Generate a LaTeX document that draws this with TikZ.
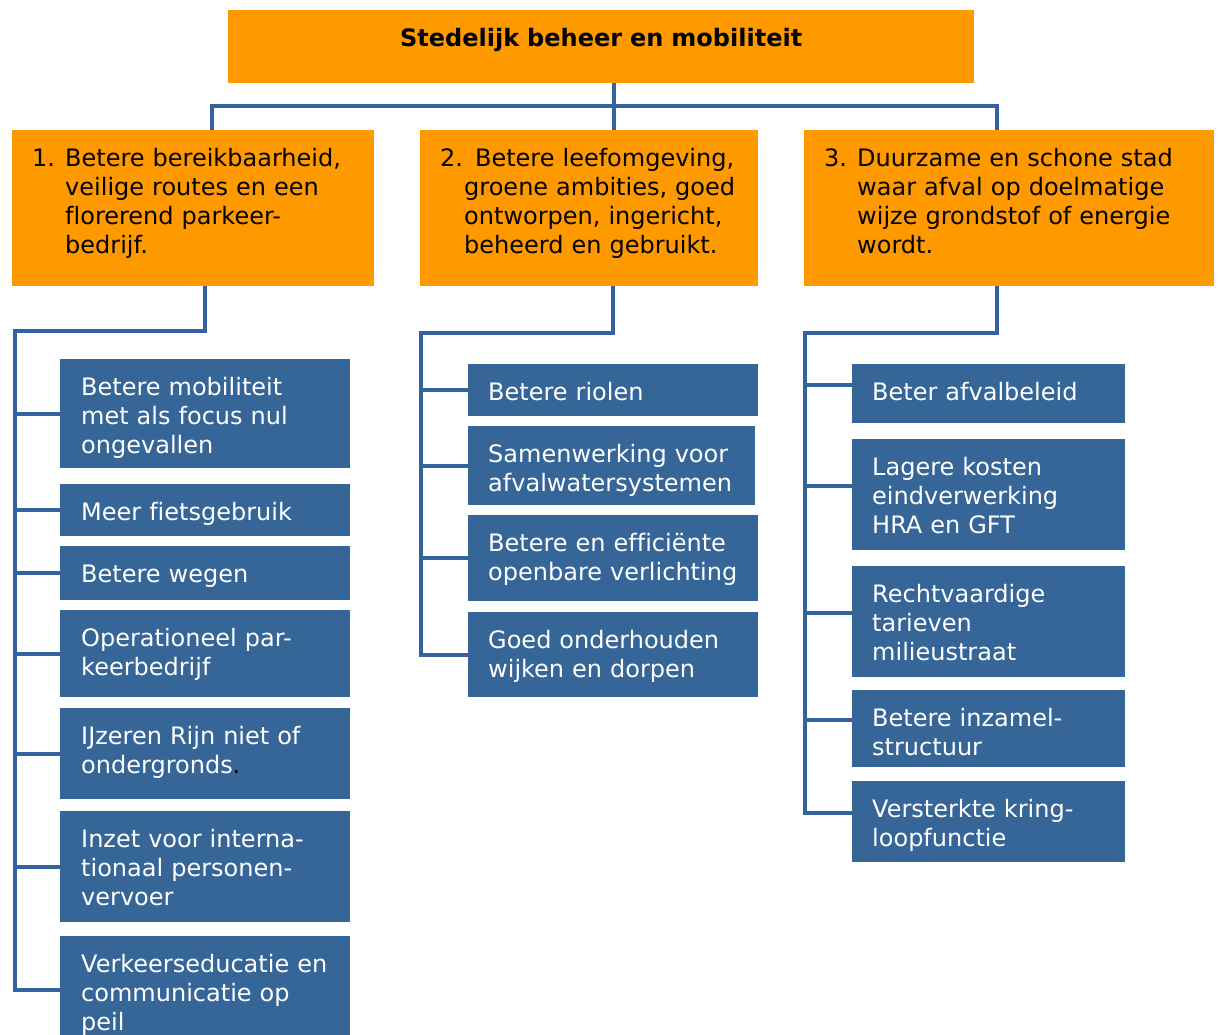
\documentclass[tikz,border=0pt]{standalone}
\usepackage{fontspec}
\setmainfont{DejaVu Sans}[Ligatures=NoCommon]

\definecolor{oranje}{RGB}{255,153,0}
\definecolor{blauw}{RGB}{54,101,152}
\definecolor{lijnblauw}{RGB}{52,100,160}

\newcommand{\nummer}[1]{\makebox[33pt][l]{#1}}
\newcommand{\inspring}[1]{\hspace*{#1}}

\tikzset{
  doel/.style={fill=oranje, inner sep=0pt, anchor=north west},
  actie/.style={fill=blauw, inner sep=0pt, anchor=north west},
  tekst/.style={anchor=base west, inner sep=0pt, text width=400pt, align=left, font=\fontsize{24}{29}\selectfont},
  wit/.style={tekst, text=white},
  verbinding/.style={draw=lijnblauw, line width=4pt}
}

\begin{document}
\begin{tikzpicture}[x=1pt, y=-1pt]
    \useasboundingbox (0,0) rectangle (1218,1034);
    \node[doel, minimum width=746, minimum height=73] (top) at (228,10) {}; % hoofdthema
    \node[tekst, anchor=base, text width=700pt, align=center, font=\fontsize{24}{29}\selectfont\bfseries] (top-t) at ([yshift=-36pt]top.north) {Stedelijk beheer en mobiliteit};
    \node[doel, minimum width=362, minimum height=156] (g1) at (12,130) {}; % doel 1
    \node[doel, minimum width=338, minimum height=156] (g2) at (420,130) {}; % doel 2
    \node[doel, minimum width=410, minimum height=156] (g3) at (804,130) {}; % doel 3
    \node[tekst] (g1-t) at ([xshift=20pt, yshift=-36pt]g1.north west) {\nummer{1.}Betere bereikbaarheid,\\\inspring{33pt}veilige routes en een\\\inspring{33pt}florerend parkeer-\\\inspring{33pt}bedrijf.};
    \node[tekst] (g2-t) at ([xshift=20pt, yshift=-36pt]g2.north west) {2. Betere leefomgeving,\\\inspring{24pt}groene ambities, goed\\\inspring{24pt}ontworpen, ingericht,\\\inspring{24pt}beheerd en gebruikt.};
    \node[tekst] (g3-t) at ([xshift=20pt, yshift=-36pt]g3.north west) {\nummer{3.}Duurzame en schone stad\\\inspring{33pt}waar afval op doelmatige\\\inspring{33pt}wijze grondstof of energie\\\inspring{33pt}wordt.};

    \node[actie, minimum width=290, minimum height=109] (l1) at (60,359) {}; % acties doel 1
    \node[actie, minimum width=290, minimum height=52] (l2) at (60,484) {};
    \node[actie, minimum width=290, minimum height=54] (l3) at (60,546) {};
    \node[actie, minimum width=290, minimum height=87] (l4) at (60,610) {};
    \node[actie, minimum width=290, minimum height=91] (l5) at (60,708) {};
    \node[actie, minimum width=290, minimum height=111] (l6) at (60,811) {};
    \node[actie, minimum width=290, minimum height=108] (l7) at (60,936) {};
    \node[wit] (l1-t) at ([xshift=21pt, yshift=-36pt]l1.north west) {Betere mobiliteit\\met als focus nul\\ongevallen};
    \node[wit] (l2-t) at ([xshift=21pt, yshift=-36pt]l2.north west) {Meer fietsgebruik};
    \node[wit] (l3-t) at ([xshift=21pt, yshift=-36pt]l3.north west) {Betere wegen};
    \node[wit] (l4-t) at ([xshift=21pt, yshift=-36pt]l4.north west) {Operationeel par-\\keerbedrijf};
    \node[wit] (l5-t) at ([xshift=21pt, yshift=-36pt]l5.north west) {IJzeren Rijn niet of\\ondergronds\textcolor{black}{.}};
    \node[wit] (l6-t) at ([xshift=21pt, yshift=-36pt]l6.north west) {Inzet voor interna-\\tionaal personen-\\vervoer};
    \node[wit] (l7-t) at ([xshift=21pt, yshift=-36pt]l7.north west) {Verkeerseducatie en\\communicatie op\\peil};

    \node[actie, minimum width=290, minimum height=52] (m1) at (468,364) {}; % acties doel 2
    \node[actie, minimum width=287, minimum height=79] (m2) at (468,426) {};
    \node[actie, minimum width=290, minimum height=86] (m3) at (468,515) {};
    \node[actie, minimum width=290, minimum height=85] (m4) at (468,612) {};
    \node[wit] (m1-t) at ([xshift=20pt, yshift=-36pt]m1.north west) {Betere riolen};
    \node[wit] (m2-t) at ([xshift=20pt, yshift=-36pt]m2.north west) {Samenwerking voor\\afvalwatersystemen};
    \node[wit] (m3-t) at ([xshift=20pt, yshift=-36pt]m3.north west) {Betere en efficiënte\\openbare verlichting};
    \node[wit] (m4-t) at ([xshift=20pt, yshift=-36pt]m4.north west) {Goed onderhouden\\wijken en dorpen};

    \node[actie, minimum width=273, minimum height=59] (r1) at (852,364) {}; % acties doel 3
    \node[actie, minimum width=273, minimum height=111] (r2) at (852,439) {};
    \node[actie, minimum width=273, minimum height=111] (r3) at (852,566) {};
    \node[actie, minimum width=273, minimum height=77] (r4) at (852,690) {};
    \node[actie, minimum width=273, minimum height=81] (r5) at (852,781) {};
    \node[wit] (r1-t) at ([xshift=20pt, yshift=-36pt]r1.north west) {Beter afvalbeleid};
    \node[wit] (r2-t) at ([xshift=20pt, yshift=-36pt]r2.north west) {Lagere kosten\\eindverwerking\\HRA en GFT};
    \node[wit] (r3-t) at ([xshift=20pt, yshift=-36pt]r3.north west) {Rechtvaardige\\tarieven\\milieustraat};
    \node[wit] (r4-t) at ([xshift=20pt, yshift=-36pt]r4.north west) {Betere inzamel-\\structuur};
    \node[wit] (r5-t) at ([xshift=20pt, yshift=-36pt]r5.north west) {Versterkte kring-\\loopfunctie};

    \coordinate (balk) at (614,106); % verdeelbalk
    \coordinate (stam1) at (15,331);
    \coordinate (stam2) at (421,333);
    \coordinate (stam3) at (805,333);
    \draw[verbinding] ([xshift=13pt]top.south) -- ([xshift=13pt]top.south |- g2.north); % naar doel 2
    \draw[verbinding] ([xshift=19pt]g1.north) |- (balk) -| ([xshift=-12pt]g3.north); % naar doel 1 en 3
    \draw[verbinding] ([xshift=12pt]g1.south) |- (stam1) -- (stam1 |- l7.west) -- (l7.west); % stam doel 1
    \foreach \i in {1,...,6}
        \draw[verbinding] (stam1 |- l\i.west) -- (l\i.west);
    \draw[verbinding] ([xshift=24pt]g2.south) |- (stam2) -- (stam2 |- m4.west) -- (m4.west); % stam doel 2
    \foreach \i in {1,...,3}
        \draw[verbinding] (stam2 |- m\i.west) -- (m\i.west);
    \draw[verbinding] ([xshift=-12pt]g3.south) |- (stam3) -- ([yshift=9pt]stam3 |- r5.west) -- ([yshift=9pt]r5.west); % stam doel 3
    \foreach \i in {1,...,4}
        \draw[verbinding] ([yshift=9pt]stam3 |- r\i.west) -- ([yshift=9pt]r\i.west);
\end{tikzpicture}
\end{document}
